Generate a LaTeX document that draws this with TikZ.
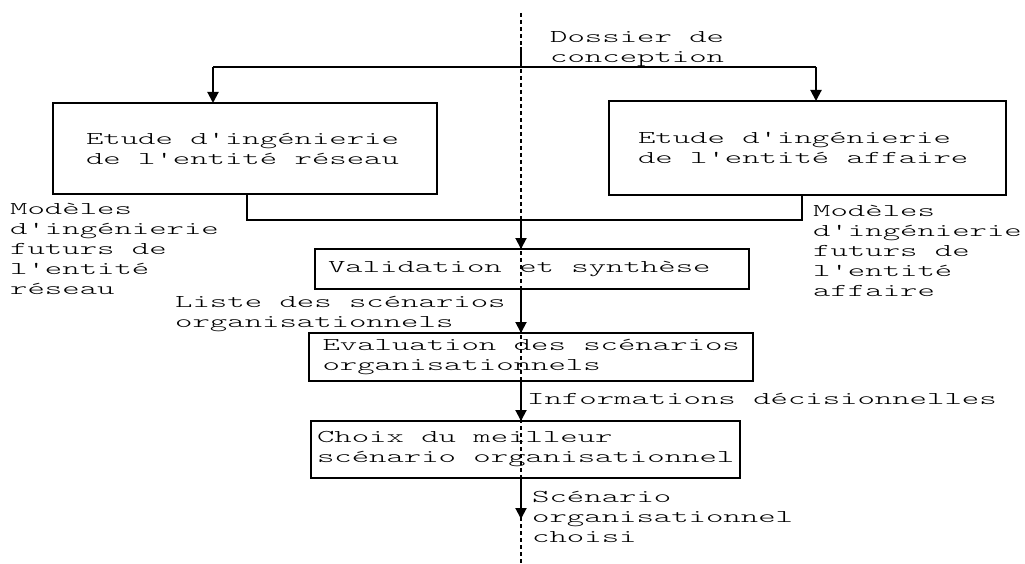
\documentclass[tikz,border=0pt]{standalone}
\usepackage{fontspec}
\newfontfamily\diagfont[FakeStretch=1.84]{lmmonolt10-regular.otf}
\usetikzlibrary{arrows.meta}
\newcommand\boxline[1]{\mbox{\spaceskip=0pt\xspaceskip=0pt\relax #1}}
\begin{document}
\begin{tikzpicture}[x=1pt,y=-1pt,
  font=\diagfont\fontsize{18pt}{20pt}\selectfont,
  box/.style={draw, line width=1.6pt, rectangle, align=left, anchor=north west, inner ysep=0pt, outer sep=0pt},
  lbl/.style={inner sep=0pt, align=left, anchor=base west},
  ln/.style={line width=1.6pt},
  arr/.style={line width=2pt, -{Triangle[length=11pt,width=11pt]}},
  dotl/.style={line width=1.6pt, dash pattern=on 4pt off 3pt}]
\useasboundingbox (0,0) rectangle (1025,564);
% boxes
\node[box, text width=318pt, inner xsep=33pt, minimum height=91pt] (L) at (53,103) {\boxline{Etude d'ingénierie}\\\boxline{de l'entité réseau}};
\node[box, text width=339pt, inner xsep=29pt, minimum height=94pt] (R) at (609,101) {\boxline{Etude d'ingénierie}\\\boxline{de l'entité affaire}};
\node[box, text width=408pt, inner xsep=13pt, minimum height=40pt] (V) at (315,249) {\boxline{Validation et synthèse}};
\node[box, text width=417pt, inner xsep=13.5pt, minimum height=48pt] (E) at (309,333) {\boxline{Evaluation des scénarios}\\\boxline{organisationnels}};
\node[box, text width=417pt, inner xsep=6pt, minimum height=57pt] (C) at (311,421) {\boxline{Choix du meilleur}\\\boxline{scénario organisationnel}};
% labels (anchored at the baseline of their last line)
\node[lbl] (dos) at (550,63) {Dossier de\\conception};
\node[lbl] (ml) at (10,294) {Modèles\\d'ingénierie\\futurs de\\l'entité\\réseau};
\node[lbl] (mr) at (813,296) {Modèles\\d'ingénierie\\futurs de\\l'entité\\affaire};
\node[lbl] (lst) at (175,327) {Liste des scénarios\\organisationnels};
\node[lbl] (inf) at (527,404) {Informations décisionnelles};
\node[lbl] (sch) at (532,542) {Scénario\\organisationnel\\choisi};
% dotted axis
\coordinate (dt) at (521,13);
\coordinate (db) at (521,564);
\draw[dotl] (dt) -- (db);
% top distribution
\coordinate (src) at (521,47);
\coordinate (jt) at (521,67);
\coordinate (tl) at (213,67);
\coordinate (tr) at (816,67);
\draw[ln] (src) -- (jt);
\draw[ln] (tl) -- (tr);
\draw[arr] (tl) -- (tl |- L.north);
\draw[arr] (tr) -- (tr |- R.north);
% merge
\coordinate (bl) at (247,220);
\coordinate (br) at (802,220);
\coordinate (bj) at (521,220);
\draw[ln] (bl |- L.south) -- (bl) -- (br) -- (br |- R.south);
\draw[arr] (bj) -- (bj |- V.north);
\draw[arr] (bj |- V.south) -- (bj |- E.north);
\draw[arr] (bj |- E.south) -- (bj |- C.north);
\coordinate (out) at (521,519);
\draw[arr] (bj |- C.south) -- (out);
\end{tikzpicture}
\end{document}
